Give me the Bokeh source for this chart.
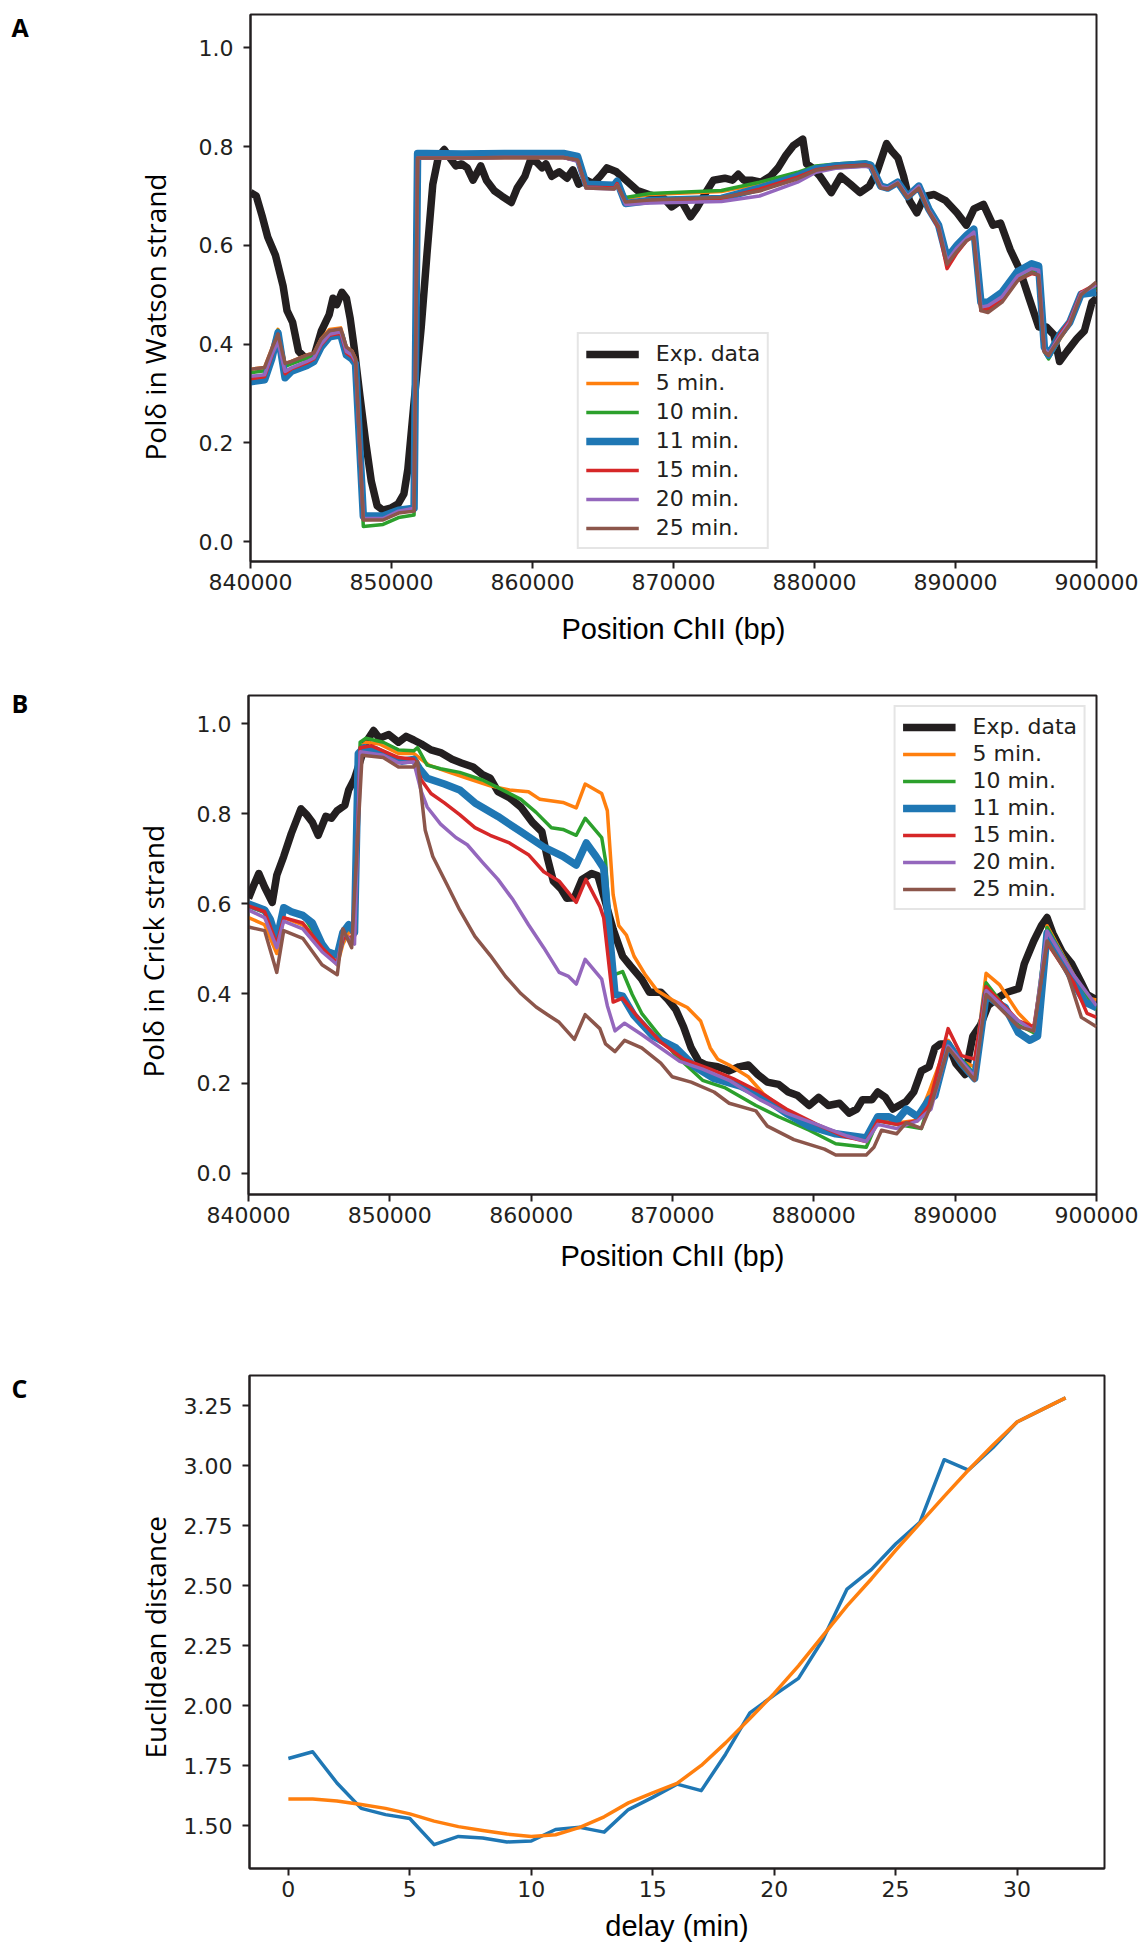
from bokeh.plotting import figure
from bokeh.models import (Range1d, FixedTicker, PrintfTickFormatter, Legend, LegendItem,
                          BasicTickFormatter, Title)
from bokeh.core.properties import value
from bokeh.layouts import column, row
from bokeh.embed import file_html
from bokeh.resources import INLINE

DARK = "#231f20"
EXP_COLOR = "#231f20"
SERIES_COLORS = ["#ff7f0e", "#2ca02c", "#1f77b4", "#d62728", "#9467bd", "#8c564b"]
SERIES_LABELS = ["5 min.", "10 min.", "11 min.", "15 min.", "20 min.", "25 min."]

# ---------------- Panel A (Watson strand) ----------------
a_exp_x = [840000, 840410, 840820, 841220, 841770, 842310, 842590, 842990, 843400, 843950,
           844500, 845030, 845580, 845850, 846120, 846480, 846800, 847070, 847350, 847760,
           848160, 848570, 848980, 849390, 849930, 850480, 850880, 851160, 851560, 852110,
           852520, 852930, 853330, 853740, 854150, 854560, 854970, 855370, 855780, 856330,
           856730, 857280, 857820, 858500, 858910, 859460, 859860, 860270, 860680, 860950,
           861360, 861900, 862450, 862860, 863270, 863810, 864300, 864800, 865280, 865950,
           866630, 867440, 868250, 869330, 869870, 870540, 871210, 871620, 872290, 872830,
           873640, 874180, 874590, 874990, 875530, 876200, 876880, 877420, 877960, 878500,
           879170, 879440, 879850, 880390, 881190, 881870, 882540, 883220, 883890, 884430,
           885110, 885510, 885920, 886320, 886730, 887260, 887800, 888480, 889290, 890100,
           890770, 891310, 891980, 892660, 893200, 893870, 894550, 895220, 895900, 896440,
           896980, 897380, 897920, 898600, 899140, 899680, 900000]
a_exp_y = [0.707, 0.70, 0.66, 0.617, 0.58, 0.518, 0.468, 0.444, 0.386, 0.37,
           0.375, 0.427, 0.46, 0.493, 0.48, 0.505, 0.493, 0.452, 0.394, 0.295,
           0.204, 0.122, 0.073, 0.064, 0.068, 0.077, 0.097, 0.147, 0.27, 0.435,
           0.584, 0.724, 0.78, 0.794, 0.777, 0.761, 0.765, 0.757, 0.732, 0.761,
           0.732, 0.711, 0.70, 0.687, 0.716, 0.74, 0.773, 0.769, 0.757, 0.765,
           0.74, 0.749, 0.736, 0.753, 0.724, 0.732, 0.725, 0.74, 0.757, 0.749,
           0.732, 0.711, 0.703, 0.695, 0.678, 0.691, 0.658, 0.674, 0.707, 0.732,
           0.736, 0.732, 0.744, 0.732, 0.732, 0.728, 0.740, 0.757, 0.782, 0.802,
           0.815, 0.765, 0.757, 0.740, 0.707, 0.740, 0.724, 0.707, 0.720, 0.749,
           0.806, 0.790, 0.777, 0.740, 0.691, 0.666, 0.699, 0.703, 0.691, 0.666,
           0.641, 0.674, 0.683, 0.641, 0.645, 0.592, 0.551, 0.493, 0.435, 0.435,
           0.419, 0.365, 0.386, 0.411, 0.427, 0.485, 0.493]

a_model_x = [840000, 841000, 841500, 841950, 842450, 842900, 844000, 844500, 845000, 845600,
             846400, 846800, 847200, 847450, 848000, 849400, 850500, 851600, 851850, 852500,
             855000, 858000, 862200, 863200, 863800, 865800, 866000, 866600, 868300, 873400,
             876100, 878800, 880100, 881500, 883600, 884000, 884700, 885200, 885900, 886600,
             887400, 888100, 888800, 889400, 890100, 890800, 891300, 891800, 892300, 893300,
             894400, 895400, 895900, 896300, 896600, 897400, 898100, 898900, 900000]
a_5min = [0.349, 0.353, 0.39, 0.43, 0.36, 0.365, 0.378, 0.382, 0.41, 0.43,
          0.433, 0.394, 0.386, 0.37, 0.05, 0.05, 0.06, 0.063, 0.777, 0.777,
          0.777, 0.778, 0.778, 0.772, 0.718, 0.716, 0.725, 0.695, 0.703, 0.709,
          0.724, 0.745, 0.757, 0.763, 0.767, 0.764, 0.722, 0.716, 0.726, 0.70,
          0.718, 0.672, 0.64, 0.57, 0.596, 0.617, 0.627, 0.478, 0.47, 0.492,
          0.535, 0.55, 0.545, 0.39, 0.372, 0.41, 0.44, 0.50, 0.51]
a_10min = [0.342, 0.346, 0.385, 0.428, 0.355, 0.36, 0.372, 0.378, 0.405, 0.425,
           0.428, 0.39, 0.38, 0.368, 0.031, 0.035, 0.049, 0.054, 0.777, 0.777,
           0.777, 0.778, 0.778, 0.772, 0.718, 0.716, 0.725, 0.697, 0.705, 0.711,
           0.728, 0.748, 0.761, 0.765, 0.769, 0.766, 0.722, 0.716, 0.728, 0.70,
           0.722, 0.675, 0.64, 0.565, 0.59, 0.612, 0.625, 0.47, 0.468, 0.488,
           0.532, 0.548, 0.545, 0.385, 0.37, 0.412, 0.44, 0.50, 0.515]
a_11min = [0.324, 0.328, 0.37, 0.423, 0.332, 0.345, 0.357, 0.365, 0.394, 0.415,
           0.419, 0.378, 0.37, 0.36, 0.052, 0.052, 0.064, 0.068, 0.786, 0.786,
           0.785, 0.786, 0.786, 0.78, 0.724, 0.722, 0.73, 0.685, 0.691, 0.695,
           0.716, 0.74, 0.755, 0.761, 0.765, 0.762, 0.72, 0.716, 0.728, 0.699,
           0.72, 0.674, 0.641, 0.575, 0.60, 0.621, 0.633, 0.485, 0.485, 0.505,
           0.547, 0.563, 0.558, 0.394, 0.378, 0.419, 0.444, 0.501, 0.505]
a_15min = [0.33, 0.334, 0.375, 0.42, 0.34, 0.35, 0.362, 0.37, 0.398, 0.418,
           0.422, 0.382, 0.374, 0.362, 0.045, 0.046, 0.06, 0.064, 0.777, 0.777,
           0.777, 0.778, 0.778, 0.772, 0.718, 0.716, 0.725, 0.685, 0.69, 0.695,
           0.714, 0.738, 0.753, 0.759, 0.763, 0.76, 0.718, 0.714, 0.726, 0.697,
           0.716, 0.67, 0.635, 0.553, 0.585, 0.61, 0.62, 0.468, 0.472, 0.49,
           0.53, 0.543, 0.54, 0.385, 0.378, 0.42, 0.448, 0.505, 0.522]
a_20min = [0.335, 0.338, 0.378, 0.405, 0.345, 0.352, 0.365, 0.372, 0.4, 0.42,
           0.425, 0.385, 0.378, 0.365, 0.047, 0.047, 0.062, 0.068, 0.777, 0.777,
           0.777, 0.778, 0.778, 0.77, 0.716, 0.714, 0.722, 0.683, 0.686, 0.689,
           0.70, 0.728, 0.748, 0.756, 0.76, 0.758, 0.72, 0.716, 0.728, 0.699,
           0.72, 0.672, 0.64, 0.568, 0.595, 0.615, 0.627, 0.475, 0.478, 0.496,
           0.538, 0.553, 0.55, 0.39, 0.38, 0.416, 0.445, 0.503, 0.52]
a_25min = [0.349, 0.353, 0.39, 0.42, 0.361, 0.365, 0.378, 0.382, 0.41, 0.427,
           0.431, 0.394, 0.386, 0.37, 0.044, 0.044, 0.058, 0.062, 0.777, 0.777,
           0.777, 0.778, 0.778, 0.773, 0.716, 0.714, 0.722, 0.688, 0.692, 0.697,
           0.71, 0.735, 0.752, 0.758, 0.762, 0.76, 0.716, 0.714, 0.726, 0.697,
           0.716, 0.67, 0.638, 0.562, 0.588, 0.61, 0.617, 0.468, 0.464, 0.485,
           0.528, 0.545, 0.54, 0.385, 0.378, 0.412, 0.44, 0.50, 0.526]

# ---------------- Panel B (Crick strand) ----------------
b_exp_x = [840000, 840320, 840730, 841140, 841680, 842000, 842490, 843030, 843710, 844110,
           844520, 844930, 845470, 845870, 846280, 846820, 847090, 847500, 847900, 848310,
           848850, 849260, 849930, 850610, 851150, 851690, 852230, 852910, 853590, 854400,
           855070, 855890, 856560, 857100, 857650, 858460, 859270, 860080, 860760, 861160,
           861570, 862110, 862520, 863060, 863600, 864280, 864720, 865260, 865800, 866470,
           867010, 867820, 868360, 869170, 869700, 870240, 870780, 871320, 871860, 872400,
           873200, 874010, 874690, 875360, 876030, 876710, 877510, 878190, 878860, 879670,
           880340, 881020, 881820, 882500, 883040, 883440, 884110, 884520, 885060, 885590,
           886540, 887070, 887610, 888150, 888560, 888960, 889500, 890040, 890710, 891250,
           891790, 892330, 893000, 893670, 894480, 894890, 895560, 896100, 896500, 896910,
           897580, 898250, 898930, 899330, 900000]
b_exp_y = [0.612, 0.637, 0.667, 0.637, 0.603, 0.663, 0.705, 0.756, 0.811, 0.798,
           0.781, 0.752, 0.794, 0.79, 0.807, 0.819, 0.853, 0.878, 0.917, 0.959,
           0.985, 0.968, 0.976, 0.959, 0.972, 0.964, 0.955, 0.942, 0.936, 0.921,
           0.913, 0.904, 0.887, 0.879, 0.849, 0.836, 0.815, 0.781, 0.76, 0.70,
           0.65, 0.633, 0.612, 0.613, 0.654, 0.667, 0.662, 0.603, 0.543, 0.483,
           0.462, 0.432, 0.403, 0.403, 0.386, 0.364, 0.326, 0.279, 0.249, 0.241,
           0.237, 0.228, 0.237, 0.241, 0.22, 0.203, 0.198, 0.181, 0.173, 0.151,
           0.169, 0.151, 0.156, 0.134, 0.143, 0.164, 0.164, 0.181, 0.169, 0.143,
           0.16, 0.181, 0.228, 0.237, 0.279, 0.288, 0.288, 0.245, 0.22, 0.305,
           0.33, 0.373, 0.39, 0.403, 0.411, 0.466, 0.517, 0.551, 0.569, 0.534,
           0.492, 0.466, 0.424, 0.398, 0.386]

b_5min_x = [840000, 841140, 842000, 842490, 843840, 845200, 846280, 846680, 847090, 847500,
            847900, 848310, 849260, 850610, 851690, 852230, 852770, 853860, 855480, 857100,
            858460, 859810, 860620, 862250, 863190, 863820, 864990, 865390, 865800, 866200,
            866740, 867280, 868090, 868900, 869970, 871050, 871990, 872670, 873200, 874010,
            875360, 876440, 877510, 879130, 880750, 882360, 883710, 884520, 885860, 887340,
            888150, 889500, 890440, 891380, 892190, 893130, 894480, 895560, 895960, 896500,
            898390, 899330, 900000]
b_5min_y = [0.569, 0.553, 0.489, 0.569, 0.553, 0.502, 0.464, 0.51, 0.536, 0.536,
            0.947, 0.959, 0.955, 0.934, 0.934, 0.921, 0.908, 0.896, 0.879, 0.862,
            0.853, 0.849, 0.832, 0.825, 0.813, 0.866, 0.845, 0.807, 0.62, 0.551,
            0.53, 0.483, 0.441, 0.407, 0.386, 0.369, 0.339, 0.279, 0.254, 0.241,
            0.215, 0.177, 0.151, 0.122, 0.10, 0.083, 0.075, 0.12, 0.112, 0.118,
            0.181, 0.296, 0.25, 0.237, 0.445, 0.42, 0.356, 0.322, 0.326, 0.551,
            0.441, 0.39, 0.386]

b_10min_x = [840000, 841140, 842000, 842490, 843840, 845200, 846280, 846680, 847090, 847500,
             847900, 848310, 849530, 850610, 851690, 851960, 852640, 853590, 854940, 856560,
             857650, 859270, 860350, 861430, 862250, 863190, 863820, 864990, 865260, 865800,
             866470, 867150, 867820, 868900, 870240, 872130, 873740, 875900, 877510, 879670,
             881550, 883710, 884520, 885860, 887610, 888290, 889500, 891380, 892190, 894480,
             895560, 896500, 898390, 900000]
b_10min_y = [0.594, 0.58, 0.515, 0.586, 0.575, 0.507, 0.48, 0.53, 0.55, 0.545,
             0.959, 0.968, 0.959, 0.942, 0.94, 0.947, 0.908, 0.90, 0.892, 0.875,
             0.858, 0.832, 0.803, 0.769, 0.765, 0.752, 0.79, 0.747, 0.696, 0.441,
             0.449, 0.398, 0.356, 0.313, 0.262, 0.207, 0.19, 0.151, 0.126, 0.096,
             0.066, 0.058, 0.117, 0.109, 0.10, 0.169, 0.288, 0.22, 0.424, 0.33,
             0.313, 0.547, 0.44, 0.364]

b_11min_x = [840000, 841140, 841540, 842000, 842490, 843030, 843840, 844520, 845200, 845600,
             846280, 846680, 847090, 847500, 847770, 848170, 848990, 850070, 850880, 851690,
             852100, 852640, 853860, 854940, 856020, 857650, 859270, 860890, 862250, 863190,
             863900, 864590, 865130, 865390, 865930, 866470, 867280, 868630, 870240, 871590,
             872940, 874820, 876440, 878050, 879670, 881550, 883710, 884520, 885320, 885860,
             886540, 887340, 888150, 888560, 889500, 890440, 891380, 892190, 892870, 893540,
             894480, 895290, 895830, 896500, 897440, 898390, 899190, 900000]
b_11min_y = [0.599, 0.586, 0.565, 0.519, 0.591, 0.582, 0.574, 0.557, 0.51, 0.493,
             0.485, 0.536, 0.553, 0.536, 0.934, 0.947, 0.942, 0.925, 0.917, 0.921,
             0.90, 0.879, 0.866, 0.853, 0.824, 0.794, 0.76, 0.726, 0.705, 0.686,
             0.735, 0.705, 0.679, 0.586, 0.398, 0.394, 0.351, 0.305, 0.279, 0.237,
             0.211, 0.194, 0.169, 0.134, 0.105, 0.088, 0.079, 0.126, 0.126, 0.117,
             0.143, 0.126, 0.164, 0.173, 0.288, 0.245, 0.211, 0.398, 0.381, 0.369,
             0.313, 0.296, 0.305, 0.534, 0.483, 0.424, 0.381, 0.369]

b_15min_x = [840000, 841140, 842000, 842490, 843840, 845200, 846280, 846680, 847500, 847900,
             848710, 850610, 851690, 852230, 852910, 853860, 854940, 856020, 857100, 858460,
             859810, 860890, 861980, 863190, 863870, 864860, 865130, 865800, 866470, 867550,
             869170, 870780, 872670, 874280, 876170, 878050, 880210, 882090, 883710, 884520,
             885860, 887340, 888150, 889500, 890440, 891380, 892190, 894480, 895560, 896500,
             898390, 899330, 900000]
b_15min_y = [0.595, 0.582, 0.51, 0.569, 0.557, 0.502, 0.468, 0.523, 0.527, 0.947,
             0.951, 0.925, 0.921, 0.875, 0.845, 0.824, 0.798, 0.769, 0.752, 0.735,
             0.709, 0.671, 0.65, 0.603, 0.654, 0.594, 0.569, 0.381, 0.39, 0.347,
             0.292, 0.254, 0.232, 0.211, 0.181, 0.143, 0.109, 0.083, 0.071, 0.117,
             0.109, 0.117, 0.151, 0.322, 0.262, 0.254, 0.415, 0.339, 0.326, 0.513,
             0.424, 0.356, 0.347]

b_20min_x = [840000, 841140, 842000, 842490, 843840, 845200, 846280, 846680, 847500, 847900,
             849530, 850610, 851690, 852230, 852640, 853590, 854670, 855480, 856560, 857650,
             858730, 859810, 860890, 861980, 862650, 863190, 863820, 864990, 865390, 865930,
             866610, 867820, 869170, 870510, 872130, 874010, 876170, 878050, 880210, 882360,
             883710, 884520, 885860, 887340, 888290, 889500, 891380, 892190, 894480, 895560,
             896500, 898390, 900000]
b_20min_y = [0.586, 0.569, 0.502, 0.561, 0.544, 0.493, 0.464, 0.536, 0.51, 0.938,
             0.93, 0.913, 0.915, 0.849, 0.815, 0.777, 0.747, 0.731, 0.692, 0.654,
             0.608, 0.553, 0.502, 0.447, 0.438, 0.421, 0.476, 0.432, 0.373, 0.317,
             0.334, 0.309, 0.279, 0.249, 0.232, 0.207, 0.164, 0.134, 0.109, 0.083,
             0.071, 0.109, 0.10, 0.117, 0.143, 0.283, 0.215, 0.407, 0.339, 0.317,
             0.539, 0.441, 0.373]

b_25min_x = [840000, 841140, 842000, 842490, 843840, 845200, 846280, 846680, 847300, 848040,
             849530, 850610, 851690, 851960, 852230, 852500, 853040, 854130, 854940, 856020,
             857100, 858190, 859270, 860350, 861160, 861980, 863060, 863820, 864860, 865260,
             865930, 866610, 867820, 869170, 869970, 871320, 872940, 874010, 875900, 876710,
             878590, 880750, 881550, 883710, 884250, 884790, 885860, 886540, 887610, 888290,
             889500, 891380, 892190, 894480, 895560, 896500, 897980, 898930, 900000]
b_25min_y = [0.548, 0.54, 0.447, 0.54, 0.523, 0.464, 0.442, 0.544, 0.502, 0.93,
             0.925, 0.904, 0.904, 0.917, 0.841, 0.764, 0.705, 0.637, 0.586, 0.527,
             0.485, 0.438, 0.40, 0.37, 0.353, 0.336, 0.298, 0.353, 0.322, 0.288,
             0.271, 0.296, 0.279, 0.245, 0.215, 0.203, 0.181, 0.156, 0.139, 0.105,
             0.075, 0.054, 0.041, 0.041, 0.058, 0.096, 0.088, 0.113, 0.10, 0.151,
             0.279, 0.207, 0.398, 0.326, 0.317, 0.517, 0.441, 0.347, 0.326]

# ---------------- Panel C (distance vs delay) ----------------
c_delay = list(range(0, 33))
c_distance = [1.781, 1.809, 1.679, 1.573, 1.547, 1.531, 1.422, 1.456, 1.45, 1.433,
              1.437, 1.485, 1.494, 1.474, 1.568, 1.619, 1.674, 1.647, 1.799, 1.971,
              2.045, 2.115, 2.276, 2.487, 2.568, 2.675, 2.765, 3.026, 2.983, 3.076,
              3.183, 3.234, 3.284]
c_fit = [1.612, 1.612, 1.604, 1.589, 1.573, 1.55, 1.52, 1.497, 1.481, 1.466,
         1.456, 1.463, 1.494, 1.538, 1.596, 1.638, 1.677, 1.752, 1.846, 1.948,
         2.052, 2.167, 2.292, 2.417, 2.529, 2.648, 2.761, 2.873, 2.983, 3.086,
         3.183, 3.234, 3.284]

TICK_FONT = "DejaVu Sans"
TICK_SIZE = "22px"
GUTTER = 44  # narrow strip on the left holding the panel letter


def make_gutter(height, letter, letter_baseline):
    g = figure(width=GUTTER, height=height, output_backend="svg", toolbar_location=None,
               x_range=Range1d(0, GUTTER), y_range=Range1d(0, height),
               x_axis_type=None, y_axis_type=None, min_border=0, frame_align=False)
    g.outline_line_color = None
    g.background_fill_color = "white"
    g.border_fill_color = "white"
    g.text(x=[11], y=[height - letter_baseline], text=[letter],
           text_font=value("Open Sans"), text_font_style="bold", text_font_size="25px",
           text_color="black", text_baseline="alphabetic", text_align="left")
    return g


def make_fig(height, top, bottom, left, right, xr, yr, xticks, yticks, xfmt, yfmt,
             xlabel, xlab_standoff, ytitle, ytitle_offset, ytitle_standoff):
    p = figure(width=1146 - GUTTER, height=height, output_backend="svg", toolbar_location=None,
               x_range=xr, y_range=yr, frame_align=False,
               min_border_top=top, min_border_bottom=bottom,
               min_border_left=left - GUTTER, min_border_right=right)
    p.xgrid.visible = False
    p.ygrid.visible = False
    p.outline_line_color = DARK
    p.outline_line_width = 2
    p.outline_line_alpha = 1.0
    p.background_fill_color = "white"
    p.border_fill_color = "white"
    for ax in (p.xaxis[0], p.yaxis[0]):
        ax.axis_line_color = DARK
        ax.axis_line_width = 2
        ax.major_tick_line_color = DARK
        ax.major_tick_line_width = 2
        ax.major_tick_out = 7
        ax.major_tick_in = 0
        ax.minor_tick_line_color = None
        ax.major_label_text_font = TICK_FONT
        ax.major_label_text_font_size = TICK_SIZE
        ax.major_label_text_color = DARK
        ax.axis_label_text_font_style = "normal"
        ax.axis_label_text_color = "black"
    p.xaxis[0].ticker = FixedTicker(ticks=xticks)
    p.yaxis[0].ticker = FixedTicker(ticks=yticks)
    p.xaxis[0].formatter = xfmt
    p.yaxis[0].formatter = yfmt
    p.xaxis[0].major_label_standoff = 5
    p.yaxis[0].major_label_standoff = 10
    p.xaxis[0].axis_label = xlabel
    p.xaxis[0].axis_label_text_font = "Liberation Sans"
    p.xaxis[0].axis_label_text_font_size = "29px"
    p.xaxis[0].axis_label_standoff = xlab_standoff
    # y title: starts (bottom end) ytitle_offset px above the frame bottom
    yt = Title(text=ytitle, align="left", offset=ytitle_offset, standoff=ytitle_standoff,
               text_font="Open Sans", text_font_size="28px", text_font_style="normal",
               text_color="black")
    p.add_layout(yt, "left")
    return p


def add_strand_lines(p, ex, ey, model_xs, model_ys):
    items = []
    r = p.line(ex, ey, line_color=EXP_COLOR, line_width=7.5, line_join="round")
    items.append(LegendItem(label="Exp. data", renderers=[r]))
    for mx, my, col, lab in zip(model_xs, model_ys, SERIES_COLORS, SERIES_LABELS):
        lw = 7.5 if lab == "11 min." else 3.5
        r = p.line(mx, my, line_color=col, line_width=lw, line_join="round")
        items.append(LegendItem(label=lab, renderers=[r]))
    return items


def style_legend(leg, spacing):
    leg.label_text_font = TICK_FONT
    leg.label_text_font_size = TICK_SIZE
    leg.label_text_color = DARK
    leg.glyph_width = 53
    leg.glyph_height = 20
    leg.label_height = 20
    leg.label_standoff = 17
    leg.spacing = spacing
    leg.padding = 7
    leg.border_line_color = "#cccccc"
    leg.border_line_width = 2
    leg.background_fill_alpha = 0.85


pos_fmt = BasicTickFormatter(use_scientific=False)
pos_ticks = [840000, 850000, 860000, 870000, 880000, 890000, 900000]
frac_ticks = [0.0, 0.2, 0.4, 0.6, 0.8, 1.0]

# Panel A
HA = 660
pA = make_fig(HA, 14, 99, 250, 50, Range1d(840000, 900000), Range1d(-0.040, 1.0675),
              pos_ticks, frac_ticks, pos_fmt, PrintfTickFormatter(format="%.1f"),
              "Position ChII (bp)", 20, "Polδ in Watson strand", 101, 44)
itemsA = add_strand_lines(pA, a_exp_x, a_exp_y, [a_model_x] * 6,
                          [a_5min, a_10min, a_11min, a_15min, a_20min, a_25min])
legA = Legend(items=itemsA, location="bottom_center", margin=12)
style_legend(legA, 4)
pA.add_layout(legA)
gA = make_gutter(HA, "A", 26)

# Panel B
HB = 648
pB = make_fig(HB, 35, 114, 248, 50, Range1d(840000, 900000), Range1d(-0.047, 1.063),
              pos_ticks, frac_ticks, pos_fmt, PrintfTickFormatter(format="%.1f"),
              "Position ChII (bp)", 14, "Polδ in Crick strand", 117, 44)
itemsB = add_strand_lines(pB, b_exp_x, b_exp_y,
                          [b_5min_x, b_10min_x, b_11min_x, b_15min_x, b_20min_x, b_25min_x],
                          [b_5min_y, b_10min_y, b_11min_y, b_15min_y, b_20min_y, b_25min_y])
legB = Legend(items=itemsB, location="top_right", margin=10)
style_legend(legB, 2)
pB.add_layout(legB)
gB = make_gutter(HB, "B", 42)

# Panel C
HC = 640
pC = make_fig(HC, 67, 80, 249, 42, Range1d(-1.6, 33.6), Range1d(1.3225, 3.377),
              [0, 5, 10, 15, 20, 25, 30], [1.5, 1.75, 2.0, 2.25, 2.5, 2.75, 3.0, 3.25],
              PrintfTickFormatter(format="%d"), PrintfTickFormatter(format="%.2f"),
              "delay (min)", 10, "Euclidean distance", 110, 14)
pC.line(c_delay, c_distance, line_color="#1f77b4", line_width=3.5, line_join="round")
pC.line(c_delay, c_fit, line_color="#ff7f0e", line_width=3.5, line_join="round")
gC = make_gutter(HC, "C", 79)

layout = column(row(gA, pA, spacing=0), row(gB, pB, spacing=0), row(gC, pC, spacing=0),
                spacing=0)
open("out.html", "w").write(file_html(layout, INLINE))
